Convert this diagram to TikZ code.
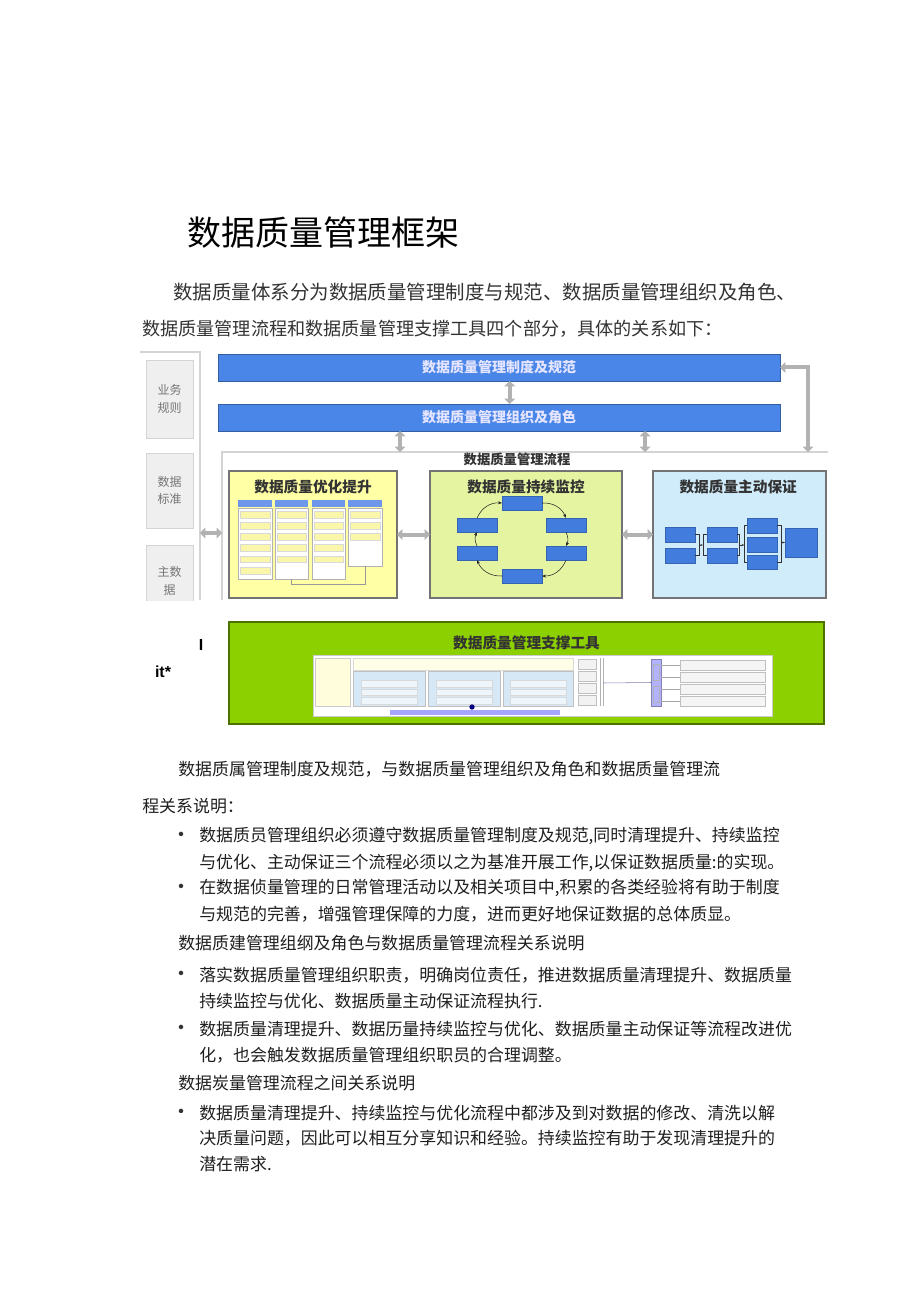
\documentclass[tikz,border=0pt]{standalone}
\usepackage{fontspec}
\setmainfont{Noto Sans CJK SC}
\newfontfamily\latinfont{Liberation Sans}
\usetikzlibrary{arrows.meta,fit,positioning}

\definecolor{barblue}{RGB}{74,134,232}
\definecolor{boxblue}{RGB}{66,125,222}
\definecolor{headblue}{RGB}{110,150,235}
\definecolor{paleyellow}{RGB}{255,255,165}
\definecolor{itemyellow}{RGB}{250,246,170}
\definecolor{palegreen}{RGB}{228,244,160}
\definecolor{paleblue}{RGB}{208,235,250}
\definecolor{limegreen}{RGB}{140,208,0}
\definecolor{arrowgray}{RGB}{178,178,178}
\definecolor{framegray}{RGB}{212,212,212}
\definecolor{cellgray}{RGB}{239,239,239}
\definecolor{textgray}{RGB}{118,118,118}
\definecolor{tableblue}{RGB}{214,232,246}

\tikzset{
  area/.style={inner sep=0pt, outer sep=0pt},
  bluebar/.style={area, fill=barblue, draw=barblue!70!black, thin},
  sidecell/.style={area, fill=cellgray, draw=framegray},
  procbox/.style={area, draw=black!55, line width=1.2pt},
  bigarrow/.style={draw=arrowgray, line width=3pt, {Triangle[length=4pt,width=8pt]}-{Triangle[length=4pt,width=8pt]}},
  smallbox/.style={area, fill=boxblue, draw=boxblue!80!black, very thin},
  item/.style={area, fill=itemyellow, draw=black!15, very thin, minimum width=22pt, minimum height=5pt, anchor=north},
  boxtitle/.style={inner sep=0pt, font=\bfseries\fontsize{11}{11}\selectfont, text=black!80},
  bartext/.style={inner sep=0pt, font=\bfseries\fontsize{10.5}{10.5}\selectfont, text=white!90!blue},
  sidetext/.style={inner sep=0pt, align=center, font=\fontsize{9}{13}\selectfont, text=textgray},
  bodytext/.style={anchor=west, inner sep=0pt, font=\fontsize{12.7}{12.7}\selectfont, text=black!88},
  introtext/.style={anchor=west, inner sep=0pt, font=\fontsize{14.6}{14.6}\selectfont, text=black!80},
  dotmark/.style={inner sep=0pt, font=\bfseries\fontsize{12}{12}\selectfont, text=black!80},
  cyclearrow/.style={black!85, thin, -{Stealth[length=3pt]}},
}

\begin{document}
\begin{tikzpicture}[x=0.75pt,y=-0.75pt]
\useasboundingbox[fill=white] (0,0) rectangle (920,1301);

% heading and intro
\node[anchor=west, inner sep=0pt, font=\fontsize{25.5}{25.5}\selectfont] (heading) at (187,233) {数据质量管理框架};
\node[introtext] (intro1) at (173,292) {数据质量体系分为数据质量管理制度与规范、数据质量管理组织及角色、};
\node[introtext, font=\fontsize{13.6}{13.6}\selectfont] (intro2) at (142,329) {数据质量管理流程和数据质量管理支撑工具四个部分，具体的关系如下：};

\begin{scope}
\clip (138,343) rectangle (828,600);
% left column
\coordinate (colTop) at (140,352);
\coordinate (colCorner) at (200,352);
\coordinate (colFoot) at (200,600);
\draw[framegray, line width=1pt] (colTop) -- (colCorner) -- (colFoot);
\node[sidecell, fit={(146,360) (193,438)}, label={[sidetext]center:业务\\规则}] (rules) {};
\node[sidecell, fit={(146,453) (193,528)}, label={[sidetext]center:数据\\标准}] (standard) {};
\node[sidecell, fit={(146,545) (193,617)}, label={[sidetext]center:主数\\据}] (master) {};

% the two top bars
\node[bluebar, fit={(218,354) (780,381)}, label={[bartext]center:数据质量管理制度及规范}] (policy) {};
\node[bluebar, fit={(218,404) (780,431)}, label={[bartext]center:数据质量管理组织及角色}] (org) {};

% process frame
\coordinate (procNW) at (222,452);
\coordinate (procNE) at (830,452);
\coordinate (procSW) at (222,600);
\coordinate (procA) at (400,452);
\coordinate (procB) at (645,452);
\coordinate (procC) at (808,452);
\draw[framegray, line width=1pt] (procNE) -- (procNW) -- (procSW);
\node[boxtitle, font=\bfseries\fontsize{10}{10}\selectfont] (proctitle) at (517,459) {数据质量管理流程};

\node[procbox, fill=paleyellow, fit={(229,471) (397,598)}] (optimize) {};
\node[procbox, fill=palegreen, fit={(430,471) (622,598)}] (monitor) {};
\node[procbox, fill=paleblue, fit={(653,471) (826,598)}] (assure) {};
\node[boxtitle, below=6.5pt of optimize.north] (optimizetitle) {数据质量优化提升};
\node[boxtitle, below=6.5pt of monitor.north] (monitortitle) {数据质量持续监控};
\node[boxtitle, below=6.5pt of assure.north, xshift=-1pt] (assuretitle) {数据质量主动保证};

% optimize columns
\foreach \name/\xa/\xb/\yb in {colA/238/272/579, colB/275/308/579, colC/312/345/579, colD/348/382/566}
{
  \node[area, fill=white, draw=black!30, fit={(\xa,508) (\xb,\yb)}] (\name) {};
  \node[area, fill=headblue, fit={(\xa,500) (\xb,507)}] (\name-h) {};
}
\foreach \col/\n in {colA/6, colB/5, colC/5, colD/3}
  \foreach \i in {1,...,\n}
    \node[item] (\col-\i) at ([yshift={-3pt-(\i-1)*8.4pt}]\col-h.south) {};
\draw[black!40] (colB.south) -- ++(0,-4pt) -| (colD.south);

% monitor cycle
\foreach \name/\x/\y in {mon1/522/503, mon2/566/525, mon3/566/553, mon4/522/576, mon5/477/553, mon6/477/525}
  \node[smallbox, minimum width=30pt, minimum height=10.5pt] (\name) at (\x,\y) {};
\draw[cyclearrow] (mon1.east) to[bend left=35] (mon2.north);
\draw[cyclearrow] (mon2.south) to[bend left=25] (mon3.north);
\draw[cyclearrow] (mon3.south) to[bend left=35] (mon4.east);
\draw[cyclearrow] (mon4.west) to[bend left=35] (mon5.south);
\draw[cyclearrow] (mon5.north) to[bend left=25] (mon6.south);
\draw[cyclearrow] (mon6.north) to[bend left=35] (mon1.west);

% assure steps
\foreach \name/\x/\y in {a1/680/534.5, a2/680/555.5, b1/722/534.5, b2/722/555.5, c1/762/525.5, c2/762/544.5, c3/762/562}
  \node[smallbox, minimum width=22.5pt, minimum height=11pt] (\name) at (\x,\y) {};
\node[smallbox, minimum width=24pt, minimum height=22pt] (d) at (801,542.5) {};
\draw[black!80, thin] (a1.east) -- ++(3pt,0) coordinate (ab1) |- (a2.east);
\draw[black!80, thin] (b1.west) -- ++(-3pt,0) coordinate (ab2) |- (b2.west);
\draw[black!80, thin, -{Stealth[length=2pt]}] (ab1 |- 0,545) -- (ab2 |- 0,545);
\draw[black!80, thin] (b1.east) -- ++(2pt,0) coordinate (bc1) |- (b2.east);
\draw[black!80, thin] (c1.west) -- ++(-2pt,0) coordinate (bc2) |- (c3.west);
\draw[black!80, thin, -{Stealth[length=2pt]}] (bc1 |- 0,545) -- (bc2 |- 0,545);
\draw[black!80, thin] (c1.east) -- ++(3pt,0) coordinate (cd1) |- (c3.east);
\draw[black!80, thin, -{Stealth[length=2pt]}] (cd1 |- d.west) -- (d.west);

% gray arrows
\draw[bigarrow] ([xshift=8pt]policy.south) -- ([xshift=8pt]org.north);
\draw[bigarrow] (org.south -| procA) -- (procA);
\draw[bigarrow] (org.south -| procB) -- (procB);
\draw[bigarrow] (policy.east) -| (procC);
\coordinate (sideA) at (200,533);
\draw[bigarrow] (sideA) -- (sideA -| procNW);
\draw[bigarrow] (optimize) -- (monitor);
\draw[bigarrow] (monitor) -- (assure);
\end{scope}

% support tools
\node[area, fill=limegreen, draw=limegreen!55!black, line width=1pt, fit={(229,622) (824,724)}] (tools) {};
\node[boxtitle, below=10pt of tools.north] (toolstitle) {数据质量管理支撑工具};
\node[area, fill=white, draw=black!20, fit={(313,655) (772,716)}] (toolpanel) {};
\node[area, fill=yellow!14, draw=black!20, fit={(315,658) (350,706)}] (entry) {};
\node[area, fill=yellow!10, draw=black!15, fit={(353,658) (573,670)}] (tablehead) {};
\foreach \name/\xa/\xb in {tab1/353/425, tab2/428/500, tab3/503/573}
{
  \node[area, fill=tableblue, draw=black!25, fit={(\xa,671) (\xb,706)}] (\name) {};
  \foreach \i in {1,2,3}
    \node[area, fill=white!60!tableblue, draw=black!15, minimum width=42pt, minimum height=5pt] (\name-\i) at ([yshift={-3.5pt-\i*6.2pt}]\name.north) {};
}
\foreach \i/\y in {1/664, 2/676, 3/688, 4/700}
  \node[area, fill=black!5, draw=black!25, fit={(578,\y-5) (596,\y+5)}] (btn\i) {};
\draw[black!30] (600,658) -- (600,706);
\coordinate (toolsep) at (603,683);
\draw[black!30] (603,658) -- (603,706);
\node[area, fill=blue!30!white, draw=blue!40!black!50, fit={(651,659) (661,706)}] (bus) {};
\node[area, fill=white!70!blue, draw=black!30, fit={(653,664) (659,680)}] (bus1) {};
\node[area, fill=white!70!blue, draw=black!30, fit={(653,686) (659,702)}] (bus2) {};
\draw[blue!40!black!50] (toolsep) -- (bus.west);
\foreach \i/\y in {1/665, 2/677, 3/689, 4/701}
{
  \node[area, fill=black!4, draw=black!25, fit={(680,\y-5) (765,\y+5)}] (out\i) {};
  \draw[black!35] (bus.east |- out\i) -- (out\i.west);
}
\node[area, fill=blue!35!white, fit={(390,710) (560,715)}] (strip) {};
\node[circle, area, fill=blue!50!black, minimum size=4pt] (stripdot) at (472,707) {};

% stray marks left of the tools
\node[inner sep=0pt, font=\latinfont\bfseries\fontsize{12}{12}\selectfont] (markI) at (201,645) {I};
\node[inner sep=0pt, font=\latinfont\bfseries\fontsize{12}{12}\selectfont] (markIt) at (163,672) {it*};

% explanation text
\node[bodytext] (p1a) at (178,769) {数据质属管理制度及规范，与数据质量管理组织及角色和数据质量管理流};
\node[bodytext] (p1b) at (142,806) {程关系说明：};
\foreach \name/\y in {dot1/836, dot2/888, dot3/975, dot4/1029, dot5/1113}
  \node[dotmark] (\name) at (181,\y) {·};
\node[bodytext] (b1a) at (199,836) {数据质员管理组织必须遵守数据质量管理制度及规范,同时清理提升、持续监控};
\node[bodytext] (b1b) at (199,863) {与优化、主动保证三个流程必须以之为基准开展工作,以保证数据质量:的实现。};
\node[bodytext] (b2a) at (199,888) {在数据侦量管理的日常管理活动以及相关项目中,积累的各类经验将有助于制度};
\node[bodytext] (b2b) at (199,914) {与规范的完善，增强管理保障的力度，进而更好地保证数据的总体质显。};
\node[bodytext] (p2) at (178,943) {数据质建管理组纲及角色与数据质量管理流程关系说明};
\node[bodytext] (b3a) at (199,975) {落实数据质量管理组织职责，明确岗位责任，推进数据质量清理提升、数据质量};
\node[bodytext] (b3b) at (199,1001) {持续监控与优化、数据质量主动保证流程执行.};
\node[bodytext] (b4a) at (199,1029) {数据质量清理提升、数据历量持续监控与优化、数据质量主动保证等流程改进优};
\node[bodytext] (b4b) at (199,1055) {化，也会触发数据质量管理组织职员的合理调整。};
\node[bodytext] (p3) at (178,1083) {数据炭量管理流程之间关系说明};
\node[bodytext] (b5a) at (199,1113) {数据质量清理提升、持续监控与优化流程中都涉及到对数据的修改、清洗以解};
\node[bodytext] (b5b) at (199,1138) {决质量问题，因此可以相互分享知识和经验。持续监控有助于发现清理提升的};
\node[bodytext] (b5c) at (199,1164) {潜在需求.};
\end{tikzpicture}
\end{document}
